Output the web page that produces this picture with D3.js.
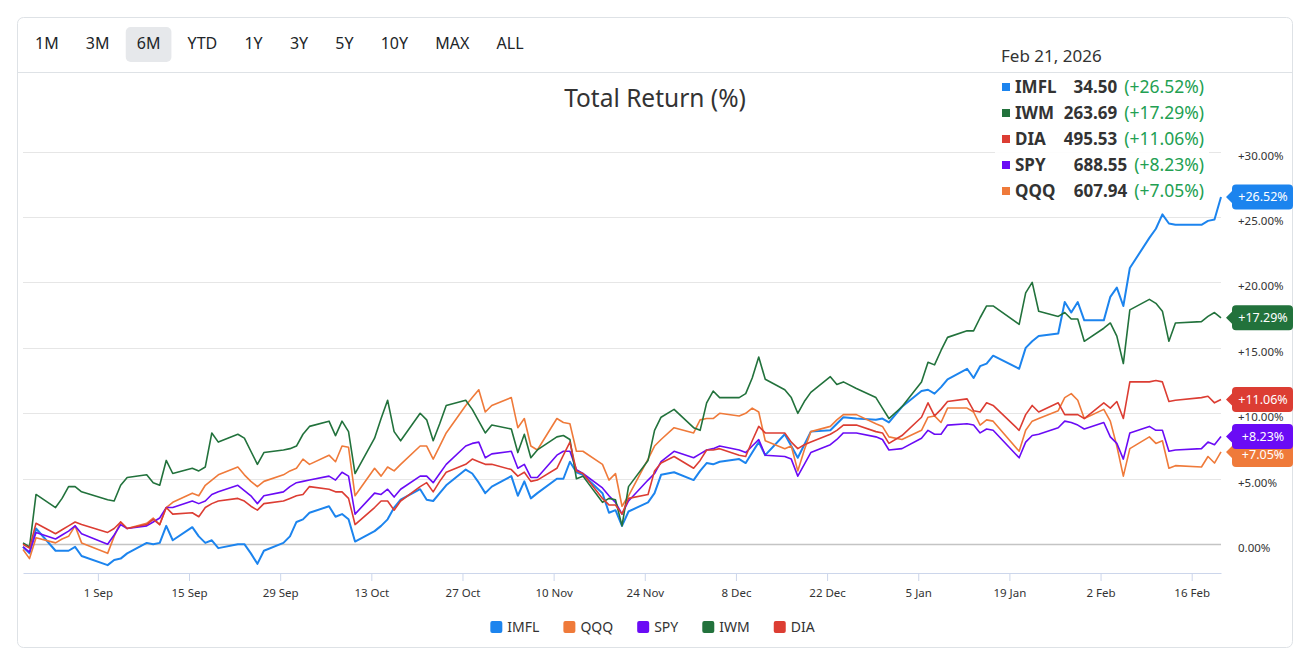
<!DOCTYPE html>
<html>
<head>
  <meta http-equiv="Content-Type" content="text/html;charset=utf-8" />
  <style type="text/css">
    body { margin: 0; background: #fff; }
    svg text { font-family: "Noto Sans", "Open Sans", sans-serif; }
  </style>
</head>

<body>
  <div id="svgContainer"></div>
  <script src="https://d3js.org/d3.v7.min.js"></script>

  <script type="text/javascript">
    var w = 1310;
    var h = 661;

    // trading days shown in the 6M window
    var dates = [
      "2025-08-20","2025-08-21","2025-08-22","2025-08-25","2025-08-26","2025-08-27","2025-08-28","2025-08-29",
      "2025-09-02","2025-09-03","2025-09-04","2025-09-05","2025-09-08","2025-09-09","2025-09-10","2025-09-11","2025-09-12",
      "2025-09-15","2025-09-16","2025-09-17","2025-09-18","2025-09-19","2025-09-22","2025-09-23","2025-09-24","2025-09-25",
      "2025-09-26","2025-09-29","2025-09-30",
      "2025-10-01","2025-10-02","2025-10-03","2025-10-06","2025-10-07","2025-10-08","2025-10-09","2025-10-10","2025-10-13",
      "2025-10-14","2025-10-15","2025-10-16","2025-10-17","2025-10-20","2025-10-21","2025-10-22","2025-10-23","2025-10-24",
      "2025-10-27","2025-10-28","2025-10-29","2025-10-30","2025-10-31",
      "2025-11-03","2025-11-04","2025-11-05","2025-11-06","2025-11-07","2025-11-10","2025-11-11","2025-11-12","2025-11-13",
      "2025-11-14","2025-11-17","2025-11-18","2025-11-19","2025-11-20","2025-11-21","2025-11-24","2025-11-25","2025-11-26",
      "2025-11-28",
      "2025-12-01","2025-12-02","2025-12-03","2025-12-04","2025-12-05","2025-12-08","2025-12-09","2025-12-10","2025-12-11",
      "2025-12-12","2025-12-15","2025-12-16","2025-12-17","2025-12-18","2025-12-19","2025-12-22","2025-12-23","2025-12-24",
      "2025-12-26","2025-12-29","2025-12-30","2025-12-31",
      "2026-01-02","2026-01-05","2026-01-06","2026-01-07","2026-01-08","2026-01-09","2026-01-12","2026-01-13","2026-01-14",
      "2026-01-15","2026-01-16","2026-01-20","2026-01-21","2026-01-22","2026-01-23","2026-01-26","2026-01-27","2026-01-28",
      "2026-01-29","2026-01-30",
      "2026-02-02","2026-02-03","2026-02-04","2026-02-05","2026-02-06","2026-02-09","2026-02-10","2026-02-11","2026-02-12",
      "2026-02-13","2026-02-17","2026-02-18","2026-02-19","2026-02-20"
    ];

    // total return (%) per series, one value per date
    var imfl = [
      -0.2, -0.7, 1.2, -0.5, -0.5, -0.5, -0.2, -0.9,
      -1.6, -1.2, -1.1, -0.7, 0.1, 0.0, 0.1, 1.4, 0.3, 1.3, 0.6, 0.1, 0.3, -0.3, 0.0, 0.0, -0.7, -1.5, -0.5, 0.1, 0.6,
      1.7, 1.9, 2.4, 2.9, 2.1, 2.3, 1.9, 0.2, 1.0, 1.4, 1.9, 2.8, 3.4, 4.2, 3.4, 3.3, 3.9, 4.5, 5.7, 5.4, 4.7, 3.9, 4.4,
      5.2, 3.7, 4.8, 3.5, 3.9, 5.0, 5.0, 6.3, 5.5, 5.3, 3.9, 2.4, 2.6, 1.4, 2.5, 3.2, 3.9, 5.3, 5.5,
      4.9, 5.6, 6.2, 6.1, 6.3, 6.5, 6.2, 7.0, 7.8, 6.8, 8.4, 7.5, 6.6, 7.6, 8.6, 8.7, 9.2, 9.7, 9.6, 9.5, 9.6, 9.3,
      10.5, 11.7, 11.8, 11.5, 12.0, 12.6, 13.4, 12.7, 13.6, 13.8, 14.4, 13.4, 15.0, 15.5, 15.9, 16.1, 18.5, 17.7, 18.5, 17.1,
      17.1, 18.9, 19.6, 18.2, 21.1, 23.4, 24.1, 25.2, 24.5, 24.4, 24.4, 24.7, 24.8, 26.52
    ];
    var qqq = [
      -0.4, -1.1, 0.5, 0.1, 0.4, 0.6, 1.4, 0.1,
      -0.7, 0.6, 1.7, 1.2, 1.6, 2.0, 1.5, 2.8, 3.2, 3.9, 3.7, 4.5, 4.9, 5.3, 5.9, 5.3, 4.8, 4.4, 4.8, 5.3, 5.6,
      5.8, 6.5, 6.1, 6.8, 6.3, 7.5, 7.4, 3.7, 5.8, 5.2, 5.9, 5.6, 6.1, 7.5, 7.5, 6.5, 7.5, 8.5, 10.6, 11.2, 11.8, 10.1, 10.6,
      11.2, 8.9, 9.6, 7.5, 7.2, 9.6, 9.3, 9.2, 7.1, 7.1, 6.1, 4.9, 5.4, 2.9, 3.7, 6.5, 7.5, 8.0, 8.9,
      8.5, 9.5, 9.6, 9.6, 10.0, 9.8, 10.0, 10.4, 10.1, 7.9, 7.3, 7.5, 5.6, 7.2, 8.6, 9.0, 9.5, 9.9, 9.9, 9.2, 9.0, 8.2,
      8.0, 8.7, 9.7, 9.8, 9.3, 10.4, 10.4, 10.1, 9.1, 9.5, 9.4, 7.1, 8.7, 9.4, 9.6, 10.2, 11.2, 11.5, 11.0, 9.6,
      10.3, 9.4, 7.5, 5.2, 7.3, 8.2, 7.7, 7.9, 5.8, 6.0, 5.9, 6.7, 6.2, 7.05
    ];
    var spy = [
      -0.2, -0.6, 0.9, 0.4, 0.7, 1.0, 1.4, 0.8,
      0.0, 0.7, 1.5, 1.2, 1.4, 1.7, 2.0, 2.8, 2.8, 3.3, 3.1, 3.3, 3.8, 4.0, 4.5, 4.1, 3.7, 3.1, 3.7, 4.0, 4.4,
      4.7, 4.8, 4.9, 5.2, 4.9, 5.5, 5.2, 2.3, 3.9, 3.8, 4.2, 3.6, 4.2, 5.2, 5.2, 4.7, 5.4, 6.1, 7.5, 7.7, 7.8, 6.6, 6.9,
      7.1, 5.8, 6.1, 5.1, 5.1, 6.8, 7.1, 7.1, 5.7, 5.4, 4.3, 3.7, 3.2, 2.3, 3.3, 4.9, 5.4, 6.3, 7.1,
      6.6, 6.9, 7.2, 7.3, 7.5, 7.2, 7.0, 7.5, 8.0, 6.8, 6.7, 6.5, 5.2, 6.1, 7.0, 7.6, 8.0, 8.5, 8.5, 8.2, 8.0, 7.2,
      7.3, 8.1, 8.7, 8.4, 8.4, 9.1, 9.2, 9.1, 8.5, 8.8, 8.7, 6.6, 7.8, 8.3, 8.4, 8.9, 9.4, 9.3, 9.1, 8.8,
      9.3, 8.2, 7.7, 6.5, 8.5, 9.0, 8.7, 8.7, 7.1, 7.2, 7.3, 7.8, 7.6, 8.23
    ];
    var iwm = [
      0.1, -0.2, 3.8, 2.8, 3.5, 4.4, 4.4, 4.0,
      3.4, 3.3, 4.5, 5.1, 5.3, 4.7, 4.5, 6.4, 5.4, 5.8, 5.6, 5.9, 8.5, 7.8, 8.4, 8.1, 7.1, 6.1, 7.0, 7.2, 7.3,
      7.5, 8.4, 9.0, 9.4, 8.3, 9.4, 8.6, 5.4, 8.1, 9.6, 11.0, 8.6, 7.9, 10.0, 9.5, 7.9, 9.2, 10.6, 11.0, 10.3, 9.4, 8.5, 9.1,
      8.8, 7.0, 8.4, 6.6, 7.2, 8.2, 8.3, 8.0, 5.0, 5.2, 3.2, 3.5, 3.4, 1.4, 4.4, 6.4, 8.7, 9.7, 10.3,
      8.9, 8.7, 10.8, 11.7, 11.2, 11.2, 11.5, 12.7, 14.3, 12.6, 11.8, 11.2, 10.0, 10.9, 11.6, 12.8, 12.2, 12.4, 11.9, 11.2, 10.4, 9.6,
      10.5, 12.4, 13.9, 13.7, 14.8, 15.8, 16.3, 16.3, 17.3, 18.2, 18.2, 16.8, 19.2, 20.0, 17.8, 17.4, 17.7, 17.2, 17.2, 15.5,
      16.5, 16.9, 15.9, 13.8, 17.9, 18.7, 18.4, 17.8, 15.5, 16.9, 17.0, 17.4, 17.7, 17.29
    ];
    var dia = [
      0.0, -0.3, 1.6, 0.8, 1.1, 1.4, 1.7, 1.5,
      0.9, 1.2, 1.7, 1.2, 1.5, 1.9, 1.5, 2.8, 2.3, 2.4, 2.1, 2.8, 3.1, 3.3, 3.5, 3.3, 2.9, 2.6, 3.1, 3.3, 3.5,
      3.7, 3.8, 4.4, 4.2, 4.0, 4.0, 3.5, 1.5, 2.8, 3.3, 3.3, 2.6, 3.3, 4.4, 4.7, 4.0, 4.8, 5.5, 6.1, 6.5, 6.3, 6.1, 6.1,
      5.7, 5.2, 5.5, 4.8, 4.9, 5.8, 6.8, 7.8, 5.6, 5.4, 3.5, 3.0, 3.0, 2.3, 3.5, 3.8, 5.6, 6.2, 6.7,
      5.8, 6.4, 7.2, 7.2, 7.3, 6.8, 6.7, 7.9, 9.0, 8.5, 8.5, 7.8, 7.3, 7.6, 7.8, 8.4, 8.7, 9.1, 9.1, 8.6, 8.5, 7.7,
      8.3, 9.7, 10.8, 9.8, 10.3, 10.9, 11.1, 10.2, 10.1, 10.8, 10.6, 8.7, 9.9, 10.6, 10.1, 10.8, 9.9, 9.9, 9.9, 9.6,
      10.8, 10.4, 10.9, 9.6, 12.4, 12.4, 12.5, 12.4, 10.9, 11.0, 11.2, 11.3, 10.8, 11.06
    ];

    var tickers = ["IMFL", "QQQ", "SPY", "IWM", "DIA"];
    var lastPrices = [34.50, 607.94, 688.55, 263.69, 495.53];
    var seriesValues = [imfl, qqq, spy, iwm, dia];
    var colors = ["#1c84ee", "#ef7a3a", "#6a0bf5", "#22723c", "#dc3d33"];

    var rangeButtons = ["1M", "3M", "6M", "YTD", "1Y", "3Y", "5Y", "10Y", "MAX", "ALL"];
    var activeRange = "6M";
    var xTickDates = ["2025-09-01", "2025-09-15", "2025-09-29", "2025-10-13", "2025-10-27", "2025-11-10", "2025-11-24",
      "2025-12-08", "2025-12-22", "2026-01-05", "2026-01-19", "2026-02-02", "2026-02-16"];
    var yTicks = [0, 5, 10, 15, 20, 25, 30];
    var tooltipDate = "Feb 21, 2026";
    var title = "Total Return (%)";

    var parse = d3.timeParse("%Y-%m-%d");
    var atClose = function (s) { return d3.timeHour.offset(parse(s), 12); };

    var svg = d3.select("#svgContainer")
      .append("svg")
      .attr("width", w)
      .attr("height", h);

    // card
    svg.append("rect")
      .attr("x", 17.5).attr("y", 17.5).attr("width", 1275).attr("height", 630).attr("rx", 6)
      .attr("fill", "#fff").attr("stroke", "#dee2e6");
    svg.append("line")
      .attr("x1", 17.5).attr("x2", 1292.5).attr("y1", 72.5).attr("y2", 72.5)
      .attr("stroke", "#dee2e6");

    // range buttons
    var bx = 24;
    rangeButtons.forEach(function (b) {
      var g = svg.append("g");
      var bg = g.append("rect").attr("y", 27).attr("height", 35).attr("rx", 5)
        .attr("fill", b === activeRange ? "#e6e8eb" : "none");
      var t = g.append("text").attr("y", 45).attr("dominant-baseline", "middle")
        .attr("font-size", 16).attr("fill", "#212529").text(b);
      var tw = t.node().getComputedTextLength();
      t.attr("x", bx + 11);
      bg.attr("x", bx).attr("width", tw + 22);
      bx += tw + 22 + 5.2;
    });

    // title
    svg.append("text")
      .attr("x", 655).attr("y", 100).attr("text-anchor", "middle").attr("dominant-baseline", "middle")
      .attr("font-size", 24.5).attr("fill", "#333").text(title);

    var x = d3.scaleTime()
      .domain([atClose(dates[0]), atClose(dates[dates.length - 1])])
      .range([23, 1221]);
    var y = d3.scaleLinear().domain([-2.2, 30]).range([573, 151.5]);

    // grid
    svg.append("g").selectAll("line")
      .data(yTicks)
      .join("line")
      .attr("x1", 23).attr("x2", 1221)
      .attr("y1", function (d) { return Math.round(y(d)) + 0.5; })
      .attr("y2", function (d) { return Math.round(y(d)) + 0.5; })
      .attr("stroke", function (d) { return d === 0 ? "#c4c4c4" : "#e6e6e6"; })
      .attr("stroke-width", function (d) { return d === 0 ? 1.5 : 1; });

    var pct = function (v) { return (v > 0 ? "+" : "") + v.toFixed(2) + "%"; };

    svg.append("g").selectAll("text")
      .data(yTicks)
      .join("text")
      .attr("x", 1238).attr("y", function (d) { return y(d) + 5; })
      .attr("dominant-baseline", "middle")
      .attr("font-size", 11.5).attr("fill", "#333")
      .text(pct);

    // x axis
    var xAxis = d3.axisBottom(x)
      .tickValues(xTickDates.map(parse))
      .tickFormat(d3.timeFormat("%-d %b"))
      .tickSize(8)
      .tickSizeOuter(0);
    var gx = svg.append("g").attr("transform", "translate(0,573)").call(xAxis);
    gx.select(".domain").attr("stroke", "#ccd6eb");
    gx.selectAll(".tick line").attr("stroke", "#ccd6eb");
    gx.selectAll(".tick text").attr("font-size", 11.5).attr("fill", "#333").attr("dy", "1.15em");

    // lines
    var series = tickers.map(function (t, i) {
      return {
        name: t, color: colors[i], price: lastPrices[i],
        points: dates.map(function (d, j) { return { date: atClose(d), v: seriesValues[i][j] }; })
      };
    });

    var line = d3.line()
      .x(function (d) { return x(d.date); })
      .y(function (d) { return y(d.v); });

    svg.append("g").selectAll("path")
      .data(series)
      .join("path")
      .attr("d", function (d) { return line(d.points); })
      .attr("fill", "none")
      .attr("stroke", function (d) { return d.color; })
      .attr("stroke-width", function (d) { return d.name === "IMFL" ? 2 : 1.6; })
      .attr("stroke-linejoin", "round");

    // last value flags on the right
    var flags = series.map(function (s) {
      var last = s.points[s.points.length - 1];
      return { s: s, v: last.v, cy: y(last.v), py: y(last.v) };
    }).sort(function (a, b) { return a.cy - b.cy; });
    for (var i = 1; i < flags.length; i++) {
      if (flags[i].cy < flags[i - 1].cy + 18) flags[i].cy = flags[i - 1].cy + 18;
    }
    flags.slice().reverse().forEach(function (f) {
      var x0 = 1232, x1 = 1293, hh = 12.5, r = 4;
      var p = d3.path();
      p.moveTo(x0 + r, f.cy - hh);
      p.lineTo(x1 - r, f.cy - hh);
      p.quadraticCurveTo(x1, f.cy - hh, x1, f.cy - hh + r);
      p.lineTo(x1, f.cy + hh - r);
      p.quadraticCurveTo(x1, f.cy + hh, x1 - r, f.cy + hh);
      p.lineTo(x0 + r, f.cy + hh);
      p.quadraticCurveTo(x0, f.cy + hh, x0, f.cy + hh - r);
      p.lineTo(x0, f.py + 6);
      p.lineTo(x0 - 6, f.py);
      p.lineTo(x0, f.py - 6);
      p.lineTo(x0, f.cy - hh + r);
      p.quadraticCurveTo(x0, f.cy - hh, x0 + r, f.cy - hh);
      p.closePath();
      svg.append("path").attr("d", p.toString()).attr("fill", f.s.color);
      svg.append("text")
        .attr("x", (x0 + x1) / 2 + 0.5).attr("y", f.cy + 1)
        .attr("text-anchor", "middle").attr("dominant-baseline", "middle")
        .attr("font-size", 12.5).attr("fill", "#fff")
        .text(pct(f.v));
    });

    // tooltip
    var tip = svg.append("g");
    tip.append("rect").attr("x", 995).attr("y", 74).attr("width", 214).attr("height", 130)
      .attr("fill", "#fff").attr("fill-opacity", 0.92);
    tip.append("text").attr("x", 1001).attr("y", 57).attr("dominant-baseline", "middle")
      .attr("font-size", 17).attr("fill", "#333").text(tooltipDate);

    var rows = series.slice().sort(function (a, b) {
      return b.points[b.points.length - 1].v - a.points[a.points.length - 1].v;
    });
    rows.forEach(function (s, k) {
      var cy = 87 + k * 26;
      var lastV = s.points[s.points.length - 1].v;
      tip.append("rect").attr("x", 1002).attr("y", cy - 4).attr("width", 8).attr("height", 8).attr("fill", s.color);
      tip.append("text").attr("x", 1015).attr("y", cy + 1).attr("dominant-baseline", "middle")
        .attr("font-size", 17).attr("font-weight", "bold").attr("fill", "#333").text(s.name);
      var pt = tip.append("text").attr("x", 1204).attr("y", cy + 1).attr("text-anchor", "end")
        .attr("dominant-baseline", "middle").attr("font-size", 17.5).attr("fill", "#22a052")
        .text("(" + pct(lastV) + ")");
      var pw = pt.node().getComputedTextLength();
      tip.append("text").attr("x", 1204 - pw - 7).attr("y", cy + 1).attr("text-anchor", "end")
        .attr("dominant-baseline", "middle").attr("font-size", 17).attr("font-weight", "bold")
        .attr("fill", "#333").text(s.price.toFixed(2));
    });

    // legend
    var lg = svg.append("g");
    var lx = 0;
    series.forEach(function (s) {
      lg.append("rect").attr("x", lx).attr("y", 621).attr("width", 12).attr("height", 12).attr("rx", 2)
        .attr("fill", s.color);
      var t = lg.append("text").attr("x", lx + 17).attr("y", 628).attr("dominant-baseline", "middle")
        .attr("font-size", 14).attr("fill", "#333").text(s.name);
      lx += 17 + t.node().getComputedTextLength() + 24;
    });
    lx -= 24;
    lg.attr("transform", "translate(" + (652.5 - lx / 2) + ",0)");
  </script>
</body>

</html>
